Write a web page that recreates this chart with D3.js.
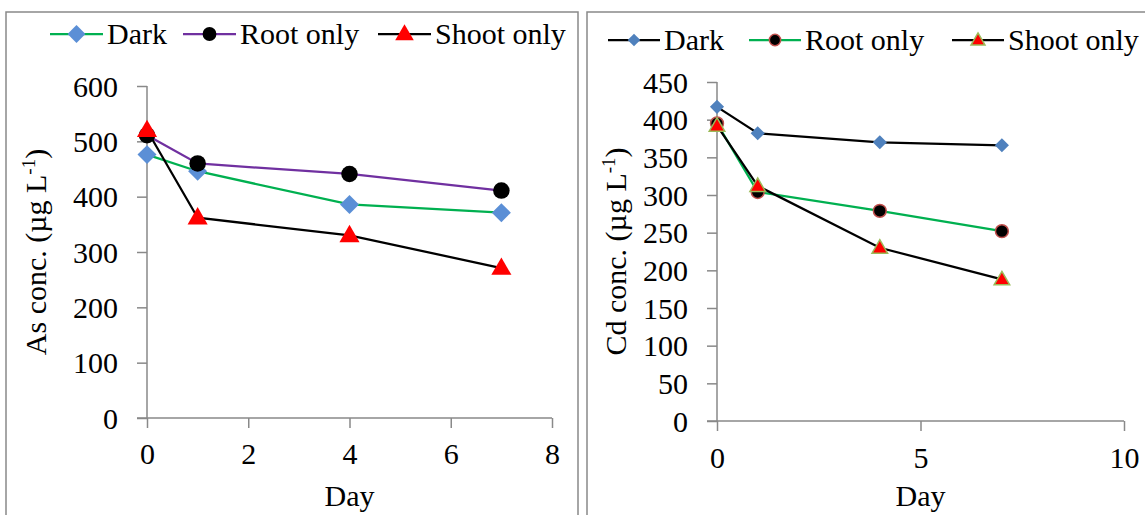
<!DOCTYPE html>
<html>
<head>
<meta charset="utf-8">
<script src="https://cdn.jsdelivr.net/npm/d3@7"></script>
</head>
<body style="margin:0">
<svg id="chart" width="1145" height="515" style="font-family:'Liberation Serif'"></svg>
<script>
// days sampled
const days = [0, 1, 4, 7]

// As panel (left)
const asDark = [476, 446, 386, 371]
const asRoot = [511, 460, 441, 411]
const asShoot = [520, 362, 330, 271]
const asYTicks = [0, 100, 200, 300, 400, 500, 600]
const asXTicks = [0, 2, 4, 6, 8]

// Cd panel (right)
const cdDark = [417, 382, 370, 366]
const cdRoot = [395, 304, 279, 252]
const cdShoot = [392, 312, 230, 188]
const cdYTicks = [0, 50, 100, 150, 200, 250, 300, 350, 400, 450]
const cdXTicks = [0, 5, 10]

const seriesNames = ['Dark', 'Root only', 'Shoot only']

const svg = d3.select('#chart')
const axisGrey = '#898989'
const fs = 30

function txt(sel) {
  return sel.style('font-family', '"Liberation Serif"').style('font-size', fs + 'px').style('fill', '#000')
}

function marker(g, shape, size, fill, stroke) {
  let sym
  if (shape === 'diamond') {
    sym = g.append('path').attr('d', d3.symbol(d3.symbolSquare, size)())
      .attr('transform', 'rotate(45)')
  } else if (shape === 'circle') {
    sym = g.append('path').attr('d', d3.symbol(d3.symbolCircle, size)())
  } else {
    sym = g.append('path').attr('d', d3.symbol(d3.symbolTriangle, size)())
      .attr('transform', 'translate(0,1)')
  }
  sym.attr('fill', fill).attr('stroke', stroke || 'none').attr('stroke-width', stroke ? 1.5 : 0)
}

function drawPanel(p) {
  const g = svg.append('g')

  // outer frame
  g.append('rect')
    .attr('x', p.frame[0]).attr('y', p.frame[1])
    .attr('width', p.frame[2]).attr('height', p.frame[3])
    .attr('fill', 'none').attr('stroke', axisGrey).attr('stroke-width', 1.5)

  const x = d3.scaleLinear().domain(p.xDomain).range(p.xRange)
  const y = d3.scaleLinear().domain(p.yDomain).range(p.yRange)

  // y axis
  const ya = g.append('g').attr('transform', `translate(${p.xRange[0]},0)`)
    .call(d3.axisLeft(y).tickValues(p.yTicks).tickSize(10).tickPadding(19).tickFormat(d3.format('d')))
  ya.attr('font-family', null).attr('font-size', null)
  ya.select('.domain').attr('stroke', axisGrey).attr('stroke-width', 1.5).attr('d', `M0,${p.yRange[0]}V${p.yRange[1]}`)
  ya.selectAll('.tick line').attr('stroke', axisGrey).attr('stroke-width', 1.5)
  ya.selectAll('.tick text').attr('dy', '0.34em').call(txt)

  // x axis
  const xa = g.append('g').attr('transform', `translate(0,${p.yRange[0]})`)
    .call(d3.axisBottom(x).tickValues(p.xTicks).tickSize(10).tickPadding(0).tickFormat(d3.format('d')))
  xa.attr('font-family', null).attr('font-size', null)
  xa.select('.domain').attr('stroke', axisGrey).attr('stroke-width', 1.5).attr('d', `M${p.xRange[0] - 10},0H${p.xRange[1]}`)
  xa.selectAll('.tick line').attr('stroke', axisGrey).attr('stroke-width', 1.5)
  xa.selectAll('.tick text').attr('dy', null).attr('y', p.xLabelOff).call(txt)

  // axis titles
  g.append('text')
    .attr('transform', `translate(${p.yTitleX},${(p.yRange[0] + p.yRange[1]) / 2}) rotate(-90)`)
    .attr('text-anchor', 'middle')
    .call(txt)
    .call(t => {
      t.append('tspan').text(p.yTitle + ' (µg L')
      t.append('tspan').style('font-size', '19px').attr('dy', -11).text('-1')
      t.append('tspan').attr('dy', 11).text(')')
    })
  g.append('text')
    .attr('x', (p.xRange[0] + p.xRange[1]) / 2).attr('y', 506)
    .attr('text-anchor', 'middle').call(txt).text('Day')

  // series
  const line = d3.line().x((d, i) => x(days[i])).y(d => y(d))
  p.series.forEach(s => {
    g.append('path').datum(s.values)
      .attr('d', line).attr('fill', 'none')
      .attr('stroke', s.line).attr('stroke-width', 2.25)
  })
  p.series.forEach(s => {
    s.values.forEach((v, i) => {
      const m = g.append('g').attr('transform', `translate(${x(days[i])},${y(v)})`)
      marker(m, s.shape, s.size, s.fill, s.stroke)
    })
  })

  // legend
  p.series.forEach((s, i) => {
    const lg = g.append('g').attr('transform', `translate(${p.legendX[i]},${p.legendY})`)
    lg.append('line').attr('x1', 0).attr('x2', p.legendLen).attr('y1', 0).attr('y2', 0)
      .attr('stroke', s.line).attr('stroke-width', 2.25)
    const m = lg.append('g').attr('transform', `translate(${p.legendLen / 2},0)`)
    marker(m, s.shape, s.legendSize, s.fill, s.stroke)
    lg.append('text').attr('x', p.legendLen + 4).attr('y', 10).call(txt).text(seriesNames[i])
  })
}

drawPanel({
  frame: [6, 12, 572, 520],
  xDomain: [0, 8], xRange: [147, 552],
  yDomain: [0, 600], yRange: [418, 86],
  yTicks: asYTicks, xTicks: asXTicks, xLabelOff: 46,
  yTitle: 'As conc.', yTitleX: 46,
  legendX: [50, 183, 378], legendY: 34, legendLen: 53,
  series: [
    { values: asDark, line: '#00b050', shape: 'diamond', size: 180, legendSize: 160, fill: '#5b8fd6' },
    { values: asRoot, line: '#7030a0', shape: 'circle', size: 215, legendSize: 150, fill: '#000' },
    { values: asShoot, line: '#000', shape: 'triangle', size: 175, legendSize: 150, fill: '#ff0000' }
  ]
})

drawPanel({
  frame: [587, 12, 570, 520],
  xDomain: [0, 10], xRange: [717, 1124],
  yDomain: [0, 450], yRange: [421, 82],
  yTicks: cdYTicks, xTicks: cdXTicks, xLabelOff: 47,
  yTitle: 'Cd conc.', yTitleX: 626,
  legendX: [608, 749, 952], legendY: 40, legendLen: 52,
  series: [
    { values: cdDark, line: '#000', shape: 'diamond', size: 100, legendSize: 80, fill: '#4f81bd' },
    { values: cdRoot, line: '#00b050', shape: 'circle', size: 130, legendSize: 100, fill: '#000', stroke: '#c0504d' },
    { values: cdShoot, line: '#000', shape: 'triangle', size: 105, legendSize: 85, fill: '#ff0000', stroke: '#9bbb59' }
  ]
})
</script>
</body>
</html>
